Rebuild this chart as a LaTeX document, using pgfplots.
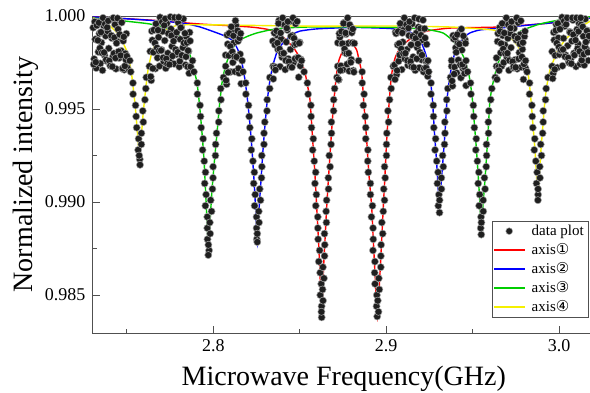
\documentclass[border=0pt]{standalone}
\usepackage{fontspec}
\setmainfont{Liberation Serif}
\newfontfamily\dejavu{DejaVu Sans}
\usepackage{pgfplots}
\pgfplotsset{compat=1.18}
\definecolor{fitred}{RGB}{255,0,0}
\definecolor{fitblue}{RGB}{0,0,255}
\definecolor{fitgreen}{RGB}{0,205,0}
\definecolor{fityellow}{RGB}{245,240,0}
\definecolor{axisgray}{RGB}{80,80,80}
\begin{document}
\begin{tikzpicture}
\begin{axis}[
  at={(0pt,0pt)}, anchor=south west,
  scale only axis, width=501.5pt, height=317pt,
  xmin=2.7304, xmax=3.0205, ymin=0.98296, ymax=1.0,
  xtick={2.8,2.9,3.0}, minor xtick={2.75,2.85,2.95},
  ytick={0.985,0.990,0.995,1.000}, minor ytick={0.9875,0.9925,0.9975},
  scaled ticks=false,
  /pgf/number format/assume math mode=true,
  x tick label style={/pgf/number format/fixed, /pgf/number format/fixed zerofill, /pgf/number format/precision=1, yshift=-3pt},
  y tick label style={/pgf/number format/fixed, /pgf/number format/fixed zerofill, /pgf/number format/precision=3, xshift=-4pt},
  tick label style={font=\fontsize{18}{20}\selectfont},
  tick pos=left, tick align=inside,
  major tick length=7pt, minor tick length=4pt,
  axis line style={axisgray, line width=1pt},
  every tick/.append style={axisgray, line width=0.9pt},
  xlabel={Microwave Frequency(GHz)},
  ylabel={Normalized intensity},
  label style={font=\fontsize{28}{32}\selectfont},
  x label style={at={(axis description cs:0.5,-0.16404)}, anchor=base},
  y label style={at={(axis description cs:-0.11964,0.5)}, anchor=base},
  legend style={at={(0.987,0.3533)}, anchor=north east, draw=axisgray, fill=white, font=\fontsize{15}{18}\selectfont, inner sep=2pt, row sep=2.5pt, /tikz/every odd column/.append style={column sep=5pt}},
  legend cell align=left,
  legend image code/.code={\fill[#1, draw=none] (0pt,-0.8pt) rectangle (31pt,0.8pt);},
]
\addplot[only marks, mark=*, mark size=3.6pt, mark options={fill=black!88, draw=black!35, line width=0.5pt},
  legend image code/.code={\path[draw=none, fill=none] (0pt,-3.6pt) rectangle (31pt,3.6pt); \filldraw[fill=black!88, draw=black!35, line width=0.5pt] (15.5pt,0pt) circle[radius=3.4pt];}] table {
2.7305 0.99937
2.7311 0.99769
2.7317 0.99875
2.7323 0.99720
2.7329 0.99968
2.7335 0.99807
2.7341 0.99906
2.7347 0.99745
2.7353 0.99857
2.7359 0.99708
2.7365 0.99949
2.7371 0.99789
2.7377 0.99893
2.7383 0.99758
2.7389 0.99919
2.7395 0.99826
2.7401 0.99980
2.7407 0.99732
2.7413 0.99881
2.7419 0.99782
2.7425 0.99799
2.7431 0.99954
2.7437 0.99716
2.7443 0.99864
2.7449 0.99929
2.7455 0.99774
2.7461 0.99974
2.7467 0.99813
2.7473 0.99717
2.7479 0.99866
2.7485 0.99711
2.7491 0.99798
2.7497 0.99905
2.7503 0.99721
2.7308 0.99740
2.7314 0.99969
2.7320 0.99752
2.7326 0.99949
2.7332 0.99869
2.7338 0.99964
2.7344 0.99827
2.7350 0.99913
2.7356 0.99802
2.7362 0.99990
2.7368 0.99804
2.7374 0.99957
2.7380 0.99765
2.7386 0.99939
2.7392 0.99974
2.7398 0.99759
2.7404 0.99732
2.7410 0.99895
2.7416 0.99728
2.7422 0.99990
2.7428 0.99884
2.7434 0.99774
2.7440 0.99854
2.7446 0.99988
2.7452 0.99809
2.7458 0.99901
2.7464 0.99788
2.7470 0.99965
2.7476 0.99718
2.7482 0.99888
2.7488 0.99731
2.7494 0.99765
2.7500 0.99784
2.75170 0.9976
2.75223 0.9970
2.75350 0.9964
2.75358 0.9958
2.75503 0.9952
2.75536 0.9946
2.75567 0.9940
2.75679 0.9934
2.75653 0.9928
2.75745 0.9923
2.75760 0.9920
2.75714 0.9925
2.75837 0.9931
2.75840 0.9937
2.75951 0.9943
2.75918 0.9949
2.76043 0.9955
2.76095 0.9961
2.76122 0.9967
2.76301 0.9973
2.7635 0.99810
2.7641 0.99654
2.7647 0.99870
2.7653 0.99805
2.7659 0.99925
2.7665 0.99717
2.7671 0.99935
2.7677 0.99775
2.7683 0.99886
2.7689 0.99731
2.7695 0.99979
2.7701 0.99818
2.7707 0.99917
2.7713 0.99756
2.7719 0.99868
2.7725 0.99719
2.7731 0.99960
2.7737 0.99800
2.7743 0.99904
2.7749 0.99769
2.7755 0.99930
2.7761 0.99837
2.7767 0.99991
2.7773 0.99743
2.7779 0.99892
2.7785 0.99793
2.7791 0.99810
2.7797 0.99965
2.7803 0.99727
2.7809 0.99875
2.7815 0.99940
2.7821 0.99785
2.7827 0.99985
2.7833 0.99832
2.7839 0.99737
2.7845 0.99885
2.7851 0.99728
2.7857 0.99811
2.7863 0.99912
2.7869 0.99728
2.7638 0.99674
2.7644 0.99919
2.7650 0.99718
2.7656 0.99925
2.7662 0.99855
2.7668 0.99958
2.7674 0.99829
2.7680 0.99924
2.7686 0.99813
2.7692 0.99993
2.7698 0.99815
2.7704 0.99968
2.7710 0.99776
2.7716 0.99950
2.7722 0.99985
2.7728 0.99770
2.7734 0.99743
2.7740 0.99906
2.7746 0.99739
2.7752 0.99995
2.7758 0.99895
2.7764 0.99785
2.7770 0.99865
2.7776 0.99992
2.7782 0.99820
2.7788 0.99912
2.7794 0.99805
2.7800 0.99993
2.7806 0.99757
2.7812 0.99937
2.7818 0.99789
2.7824 0.99830
2.7830 0.99855
2.7836 0.99907
2.7842 0.99781
2.7848 0.99857
2.7854 0.99814
2.7860 0.99692
2.7866 0.99866
2.78798 0.9976
2.78879 0.9970
2.79077 0.9964
2.79081 0.9958
2.79232 0.9952
2.79261 0.9946
2.79298 0.9940
2.79411 0.9934
2.79379 0.9928
2.79475 0.9922
2.79548 0.9916
2.79500 0.9910
2.79582 0.9904
2.79542 0.9898
2.79652 0.9892
2.79653 0.9886
2.79664 0.9880
2.79755 0.9874
2.79710 0.98715
2.79715 0.9877
2.79817 0.9883
2.79798 0.9889
2.79898 0.9895
2.79848 0.9901
2.79949 0.9907
2.79983 0.9913
2.79987 0.9919
2.80123 0.9925
2.80133 0.9931
2.80184 0.9937
2.80311 0.9943
2.80318 0.9949
2.80443 0.9955
2.80426 0.9961
2.80588 0.9967
2.80713 0.9973
2.8071 0.99790
2.8077 0.99633
2.8083 0.99849
2.8089 0.99787
2.8095 0.99907
2.8101 0.99700
2.8107 0.99918
2.8113 0.99750
2.8119 0.99856
2.8125 0.99701
2.8131 0.99949
2.8137 0.99777
2.8143 0.99865
2.8149 0.99693
2.8155 0.99795
2.8161 0.99636
2.8074 0.99654
2.8080 0.99898
2.8086 0.99697
2.8092 0.99907
2.8098 0.99837
2.8104 0.99942
2.8110 0.99808
2.8116 0.99894
2.8122 0.99783
2.8128 0.99975
2.8134 0.99780
2.8140 0.99921
2.8146 0.99718
2.8152 0.99882
2.8158 0.99906
2.81667 0.9976
2.81719 0.9970
2.81875 0.9964
2.81885 0.9958
2.82038 0.9952
2.82073 0.9946
2.82114 0.9940
2.82226 0.9934
2.82198 0.9928
2.82291 0.9922
2.82374 0.9916
2.82335 0.9910
2.82422 0.9904
2.82388 0.9898
2.82501 0.9892
2.82503 0.9886
2.82515 0.9880
2.82545 0.98785
2.82543 0.9883
2.82646 0.9889
2.82629 0.9895
2.82731 0.9901
2.82684 0.9907
2.82788 0.9913
2.82810 0.9919
2.82803 0.9925
2.82930 0.9931
2.82932 0.9937
2.82976 0.9943
2.83105 0.9949
2.83116 0.9955
2.83263 0.9961
2.83269 0.9967
2.83457 0.9973
2.8344 0.99865
2.8350 0.99723
2.8356 0.99845
2.8362 0.99724
2.8368 0.99897
2.8374 0.99820
2.8380 0.99976
2.8386 0.99728
2.8392 0.99877
2.8398 0.99778
2.8404 0.99795
2.8410 0.99950
2.8416 0.99712
2.8422 0.99860
2.8428 0.99925
2.8434 0.99770
2.8440 0.99970
2.8446 0.99820
2.8452 0.99735
2.8458 0.99895
2.8464 0.99750
2.8470 0.99845
2.8476 0.99958
2.8482 0.99775
2.8488 0.99859
2.8494 0.99671
2.8500 0.99858
2.8506 0.99767
2.8347 0.99662
2.8353 0.99909
2.8359 0.99710
2.8365 0.99920
2.8371 0.99855
2.8377 0.99960
2.8383 0.99823
2.8389 0.99909
2.8395 0.99798
2.8401 0.99990
2.8407 0.99800
2.8413 0.99953
2.8419 0.99761
2.8425 0.99935
2.8431 0.99970
2.8437 0.99755
2.8443 0.99728
2.8449 0.99891
2.8455 0.99724
2.8461 0.99990
2.8467 0.99880
2.8473 0.99770
2.8479 0.99850
2.8485 0.99971
2.8491 0.99776
2.8497 0.99854
2.8503 0.99732
2.85105 0.9976
2.85252 0.9970
2.85441 0.9964
2.85486 0.9958
2.85643 0.9952
2.85657 0.9946
2.85680 0.9940
2.85784 0.9934
2.85747 0.9928
2.85839 0.9922
2.85921 0.9916
2.85878 0.9910
2.85962 0.9904
2.85926 0.9898
2.86041 0.9892
2.86046 0.9886
2.86062 0.9880
2.86151 0.9874
2.86101 0.9868
2.86180 0.9862
2.86245 0.9856
2.86189 0.9850
2.86264 0.9844
2.86268 0.9838
2.86253 0.9841
2.86346 0.9847
2.86319 0.9853
2.86401 0.9859
2.86340 0.9865
2.86433 0.9871
2.86446 0.9877
2.86429 0.9883
2.86543 0.9889
2.86526 0.9895
2.86554 0.9901
2.86664 0.9907
2.86654 0.9913
2.86756 0.9919
2.86708 0.9925
2.86811 0.9931
2.86835 0.9937
2.86831 0.9943
2.86957 0.9949
2.86962 0.9955
2.87017 0.9961
2.87151 0.9967
2.87196 0.9973
2.8720 0.99856
2.8726 0.99657
2.8732 0.99886
2.8738 0.99732
2.8744 0.99850
2.8750 0.99711
2.8756 0.99964
2.8762 0.99803
2.8768 0.99902
2.8774 0.99741
2.8780 0.99853
2.8786 0.99704
2.8792 0.99942
2.8798 0.99766
2.8804 0.99856
2.8810 0.99707
2.8816 0.99853
2.8723 0.99659
2.8729 0.99906
2.8735 0.99707
2.8741 0.99917
2.8747 0.99852
2.8753 0.99960
2.8759 0.99823
2.8765 0.99909
2.8771 0.99798
2.8777 0.99990
2.8783 0.99800
2.8789 0.99953
2.8795 0.99751
2.8801 0.99910
2.8807 0.99930
2.8813 0.99699
2.88404 0.9976
2.88609 0.9970
2.88615 0.9964
2.88721 0.9958
2.88678 0.9952
2.88787 0.9946
2.88817 0.9940
2.88816 0.9934
2.88940 0.9928
2.88932 0.9922
2.88964 0.9916
2.89086 0.9910
2.89090 0.9904
2.89205 0.9898
2.89149 0.9892
2.89240 0.9886
2.89252 0.9880
2.89235 0.9874
2.89348 0.9868
2.89331 0.9862
2.89355 0.9856
2.89459 0.9850
2.89442 0.9844
2.89480 0.98385
2.89554 0.9841
2.89513 0.9847
2.89603 0.9853
2.89572 0.9859
2.89689 0.9865
2.89692 0.9871
2.89706 0.9877
2.89798 0.9883
2.89749 0.9889
2.89830 0.9895
2.89903 0.9901
2.89858 0.9907
2.89942 0.9913
2.89905 0.9919
2.90016 0.9925
2.90017 0.9931
2.90035 0.9937
2.90137 0.9943
2.90100 0.9949
2.90196 0.9955
2.90288 0.9961
2.90270 0.9967
2.90412 0.9973
2.9048 0.99737
2.9054 0.99914
2.9060 0.99684
2.9066 0.99845
2.9072 0.99757
2.9078 0.99790
2.9084 0.99950
2.9090 0.99712
2.9096 0.99860
2.9102 0.99925
2.9108 0.99770
2.9114 0.99970
2.9120 0.99820
2.9126 0.99735
2.9132 0.99895
2.9138 0.99750
2.9144 0.99845
2.9150 0.99958
2.9156 0.99780
2.9162 0.99880
2.9168 0.99708
2.9174 0.99908
2.9180 0.99830
2.9186 0.99940
2.9192 0.99722
2.9198 0.99933
2.9204 0.99765
2.9210 0.99871
2.9216 0.99700
2.9222 0.99932
2.9228 0.99758
2.9234 0.99848
2.9240 0.99676
2.9051 0.99659
2.9057 0.99906
2.9063 0.99707
2.9069 0.99917
2.9075 0.99852
2.9081 0.99960
2.9087 0.99823
2.9093 0.99909
2.9099 0.99798
2.9105 0.99990
2.9111 0.99800
2.9117 0.99953
2.9123 0.99761
2.9129 0.99935
2.9135 0.99970
2.9141 0.99755
2.9147 0.99728
2.9153 0.99891
2.9159 0.99724
2.9165 0.99990
2.9171 0.99880
2.9177 0.99770
2.9183 0.99850
2.9189 0.99984
2.9195 0.99805
2.9201 0.99897
2.9207 0.99790
2.9213 0.99978
2.9219 0.99718
2.9225 0.99882
2.9231 0.99722
2.9237 0.99755
2.92417 0.9976
2.92459 0.9970
2.92595 0.9964
2.92594 0.9958
2.92726 0.9952
2.92736 0.9946
2.92755 0.9940
2.92859 0.9934
2.92826 0.9928
2.92923 0.9922
2.93002 0.9916
2.92960 0.9910
2.93048 0.9904
2.93015 0.9898
2.93083 0.98943
2.93089 0.9901
2.93197 0.9907
2.93193 0.9913
2.93304 0.9919
2.93264 0.9925
2.93372 0.9931
2.93401 0.9937
2.93390 0.9943
2.93509 0.9949
2.93500 0.9955
2.93565 0.9961
2.93722 0.9967
2.93784 0.9973
2.9378 0.99761
2.9384 0.99624
2.9390 0.99877
2.9396 0.99725
2.9402 0.99829
2.9408 0.99694
2.9414 0.99855
2.9420 0.99762
2.9426 0.99916
2.9432 0.99668
2.9438 0.99817
2.9444 0.99718
2.9450 0.99727
2.9456 0.99873
2.9462 0.99626
2.9381 0.99651
2.9387 0.99895
2.9393 0.99688
2.9399 0.99885
2.9405 0.99805
2.9411 0.99900
2.9417 0.99763
2.9423 0.99849
2.9429 0.99738
2.9435 0.99930
2.9441 0.99740
2.9447 0.99893
2.9453 0.99691
2.9459 0.99853
2.94617 0.9976
2.94710 0.9970
2.94878 0.9964
2.94904 0.9958
2.95042 0.9952
2.95066 0.9946
2.95099 0.9940
2.95211 0.9934
2.95183 0.9928
2.95276 0.9922
2.95359 0.9916
2.95321 0.9910
2.95409 0.9904
2.95377 0.9898
2.95487 0.9892
2.95467 0.9886
2.95500 0.98825
2.95507 0.9889
2.95616 0.9895
2.95611 0.9901
2.95722 0.9907
2.95683 0.9913
2.95786 0.9919
2.95808 0.9925
2.95800 0.9931
2.95918 0.9937
2.95907 0.9943
2.95936 0.9949
2.96048 0.9955
2.96111 0.9961
2.96308 0.9967
2.96379 0.9973
2.9638 0.99775
2.9644 0.99863
2.9650 0.99726
2.9656 0.99938
2.9662 0.99802
2.9668 0.99731
2.9674 0.99895
2.9680 0.99750
2.9686 0.99845
2.9692 0.99958
2.9698 0.99780
2.9704 0.99880
2.9710 0.99708
2.9716 0.99908
2.9722 0.99830
2.9728 0.99940
2.9734 0.99722
2.9740 0.99933
2.9746 0.99765
2.9752 0.99871
2.9758 0.99716
2.9764 0.99964
2.9770 0.99803
2.9776 0.99900
2.9782 0.99725
2.9788 0.99821
2.9794 0.99659
2.9800 0.99890
2.9806 0.99720
2.9641 0.99659
2.9647 0.99906
2.9653 0.99707
2.9659 0.99917
2.9665 0.99852
2.9671 0.99960
2.9677 0.99823
2.9683 0.99909
2.9689 0.99798
2.9695 0.99990
2.9701 0.99800
2.9707 0.99953
2.9713 0.99761
2.9719 0.99935
2.9725 0.99970
2.9731 0.99755
2.9737 0.99728
2.9743 0.99891
2.9749 0.99724
2.9755 0.99990
2.9761 0.99880
2.9767 0.99770
2.9773 0.99850
2.9779 0.99974
2.9785 0.99780
2.9791 0.99857
2.9797 0.99742
2.9803 0.99918
2.98061 0.9976
2.98149 0.9970
2.98296 0.9964
2.98291 0.9958
2.98429 0.9952
2.98451 0.9946
2.98482 0.9940
2.98594 0.9934
2.98566 0.9928
2.98655 0.9922
2.98733 0.9916
2.98695 0.9910
2.98787 0.9904
2.98775 0.99010
2.98784 0.9907
2.98896 0.9913
2.98885 0.9919
2.98984 0.9925
2.98939 0.9931
2.99050 0.9937
2.99082 0.9943
2.99084 0.9949
2.99217 0.9955
2.99253 0.9961
2.99358 0.9967
2.99594 0.9973
2.9960 0.99809
2.9966 0.99692
2.9972 0.99871
2.9978 0.99788
2.9984 0.99954
2.9990 0.99723
2.9996 0.99882
3.0002 0.99793
3.0008 0.99815
3.0014 0.99970
3.0020 0.99732
3.0026 0.99880
3.0032 0.99945
3.0038 0.99790
3.0044 0.99990
3.0050 0.99840
3.0056 0.99755
3.0062 0.99915
3.0068 0.99770
3.0074 0.99865
3.0080 0.99978
3.0086 0.99800
3.0092 0.99900
3.0098 0.99728
3.0104 0.99928
3.0110 0.99850
3.0116 0.99960
3.0122 0.99742
3.0128 0.99953
3.0134 0.99785
3.0140 0.99891
3.0146 0.99736
3.0152 0.99984
3.0158 0.99823
3.0164 0.99922
3.0170 0.99761
3.0176 0.99873
2.9963 0.99664
2.9969 0.99912
2.9975 0.99713
2.9981 0.99922
2.9987 0.99854
2.9993 0.99960
2.9999 0.99833
3.0005 0.99929
3.0011 0.99818
3.0017 0.99993
3.0023 0.99820
3.0029 0.99973
3.0035 0.99781
3.0041 0.99955
3.0047 0.99990
3.0053 0.99775
3.0059 0.99748
3.0065 0.99911
3.0071 0.99744
3.0077 0.99990
3.0083 0.99900
3.0089 0.99790
3.0095 0.99870
3.0101 0.99990
3.0107 0.99825
3.0113 0.99917
3.0119 0.99810
3.0125 0.99990
3.0131 0.99762
3.0137 0.99942
3.0143 0.99794
3.0149 0.99835
3.0155 0.99860
3.0161 0.99920
3.0167 0.99805
3.0173 0.99893
};
\addlegendentry{data plot}
\addplot[fitred, line width=1.4pt, smooth, tension=0.35] coordinates {
(2.73042,0.99995) (2.76339,0.99978) (2.79231,0.99957) (2.82122,0.99941) (2.83279,0.99925) (2.84031,0.99887) (2.84609,0.99833) (2.84841,0.99801) (2.85014,0.99769) (2.85188,0.99731) (2.85333,0.99683) (2.85477,0.99613) (2.85593,0.99548) (2.85749,0.99333) (2.85882,0.99145) (2.85980,0.98973) (2.86084,0.98796) (2.86171,0.98618) (2.86270,0.98376) (2.86362,0.98618) (2.86460,0.98796) (2.86559,0.98973) (2.86674,0.99145) (2.86807,0.99333) (2.86952,0.99522) (2.87137,0.99694) (2.87270,0.99763) (2.87501,0.99817) (2.87675,0.99855) (2.87848,0.99871) (2.88022,0.99855) (2.88294,0.99817) (2.88427,0.99763) (2.88583,0.99694) (2.88716,0.99522) (2.88872,0.99333) (2.89005,0.99145) (2.89161,0.98973) (2.89254,0.98796) (2.89352,0.98618) (2.89485,0.98382) (2.89641,0.98618) (2.89740,0.98796) (2.89832,0.98973) (2.89931,0.99145) (2.90029,0.99333) (2.90162,0.99522) (2.90278,0.99656) (2.90393,0.99731) (2.90538,0.99780) (2.90740,0.99817) (2.91030,0.99849) (2.91376,0.99876) (2.91781,0.99898) (2.92360,0.99919) (2.93690,0.99935) (2.96582,0.99941) (2.99474,0.99962) (3.02018,0.99992)
};
\addlegendentry{axis{\dejavu ①}}
\addplot[fitblue, line width=1.4pt, smooth, tension=0.35] coordinates {
(2.73042,0.99995) (2.75182,0.99984) (2.76917,0.99973) (2.78248,0.99962) (2.79231,0.99941) (2.80214,0.99909) (2.80677,0.99892) (2.81139,0.99866) (2.81429,0.99817) (2.81660,0.99747) (2.81833,0.99656) (2.81978,0.99548) (2.82122,0.99414) (2.82238,0.99280) (2.82354,0.99118) (2.82452,0.98957) (2.82545,0.98780) (2.82643,0.98957) (2.82759,0.99118) (2.82874,0.99280) (2.82990,0.99414) (2.83123,0.99548) (2.83279,0.99656) (2.83452,0.99737) (2.83684,0.99806) (2.83973,0.99849) (2.84262,0.99876) (2.84609,0.99903) (2.85014,0.99919) (2.85882,0.99930) (2.86923,0.99935) (2.88485,0.99938) (2.90220,0.99933) (2.90798,0.99925) (2.91376,0.99914) (2.91781,0.99887) (2.92071,0.99849) (2.92302,0.99790) (2.92475,0.99710) (2.92591,0.99629) (2.92678,0.99548) (2.92794,0.99371) (2.92909,0.99226) (2.92996,0.99091) (2.93083,0.98952) (2.93170,0.99091) (2.93285,0.99226) (2.93401,0.99371) (2.93517,0.99548) (2.93632,0.99640) (2.93748,0.99710) (2.93921,0.99785) (2.94153,0.99839) (2.94442,0.99882) (2.94847,0.99909) (2.95425,0.99925) (2.96582,0.99935) (2.98317,0.99952) (3.00052,0.99968) (3.02018,0.99992)
};
\addlegendentry{axis{\dejavu ②}}
\addplot[fitgreen, line width=1.4pt, smooth, tension=0.35] coordinates {
(2.73042,0.99989) (2.74026,0.99981) (2.75356,0.99968) (2.76339,0.99957) (2.77322,0.99935) (2.77901,0.99903) (2.78248,0.99871) (2.78479,0.99833) (2.78710,0.99774) (2.78884,0.99710) (2.79057,0.99640) (2.79202,0.99522) (2.79346,0.99371) (2.79462,0.99226) (2.79549,0.99065) (2.79636,0.98892) (2.79722,0.98726) (2.79809,0.98892) (2.79925,0.99065) (2.80069,0.99226) (2.80214,0.99371) (2.80359,0.99522) (2.80503,0.99640) (2.80677,0.99720) (2.80966,0.99801) (2.81255,0.99844) (2.81544,0.99871) (2.82007,0.99892) (2.82527,0.99909) (2.83279,0.99925) (2.84031,0.99935) (2.85593,0.99941) (2.87906,0.99941) (2.90798,0.99938) (2.91955,0.99930) (2.92533,0.99925) (2.93285,0.99909) (2.93806,0.99871) (2.94268,0.99817) (2.94558,0.99763) (2.94789,0.99683) (2.94962,0.99575) (2.95107,0.99414) (2.95223,0.99280) (2.95339,0.99118) (2.95425,0.98984) (2.95500,0.98833) (2.95598,0.98984) (2.95714,0.99118) (2.95830,0.99280) (2.95917,0.99414) (2.96004,0.99548) (2.96177,0.99640) (2.96408,0.99726) (2.96697,0.99806) (2.96987,0.99860) (2.97449,0.99898) (2.97912,0.99925) (2.98895,0.99957) (2.99878,0.99976) (3.00919,0.99989) (3.02018,0.99997)
};
\addlegendentry{axis{\dejavu ③}}
\addplot[fityellow, line width=1.4pt, smooth, tension=0.35] coordinates {
(2.73042,0.99989) (2.73621,0.99973) (2.74026,0.99946) (2.74430,0.99909) (2.74777,0.99855) (2.75009,0.99806) (2.75240,0.99710) (2.75414,0.99575) (2.75529,0.99468) (2.75645,0.99333) (2.75732,0.99237) (2.75818,0.99333) (2.75934,0.99468) (2.76050,0.99575) (2.76223,0.99710) (2.76455,0.99806) (2.76744,0.99871) (2.77091,0.99914) (2.77496,0.99935) (2.78074,0.99952) (2.80388,0.99952) (2.85014,0.99946) (2.90798,0.99946) (2.93690,0.99941) (2.95136,0.99933) (2.96177,0.99925) (2.96582,0.99914) (2.97160,0.99887) (2.97565,0.99844) (2.97912,0.99790) (2.98143,0.99720) (2.98259,0.99656) (2.98375,0.99548) (2.98490,0.99414) (2.98606,0.99280) (2.98693,0.99145) (2.98780,0.99022) (2.98866,0.99145) (2.98953,0.99280) (2.99068,0.99414) (2.99184,0.99548) (2.99300,0.99629) (2.99474,0.99710) (2.99647,0.99753) (2.99878,0.99806) (3.00052,0.99833) (3.00341,0.99871) (3.00630,0.99898) (3.01209,0.99935) (3.01614,0.99962) (3.02018,0.99984)
};
\addlegendentry{axis{\dejavu ④}}
\end{axis}
\pgfresetboundingbox
\useasboundingbox (-93pt,-59pt) rectangle (497pt,333pt);
\end{tikzpicture}
\end{document}
